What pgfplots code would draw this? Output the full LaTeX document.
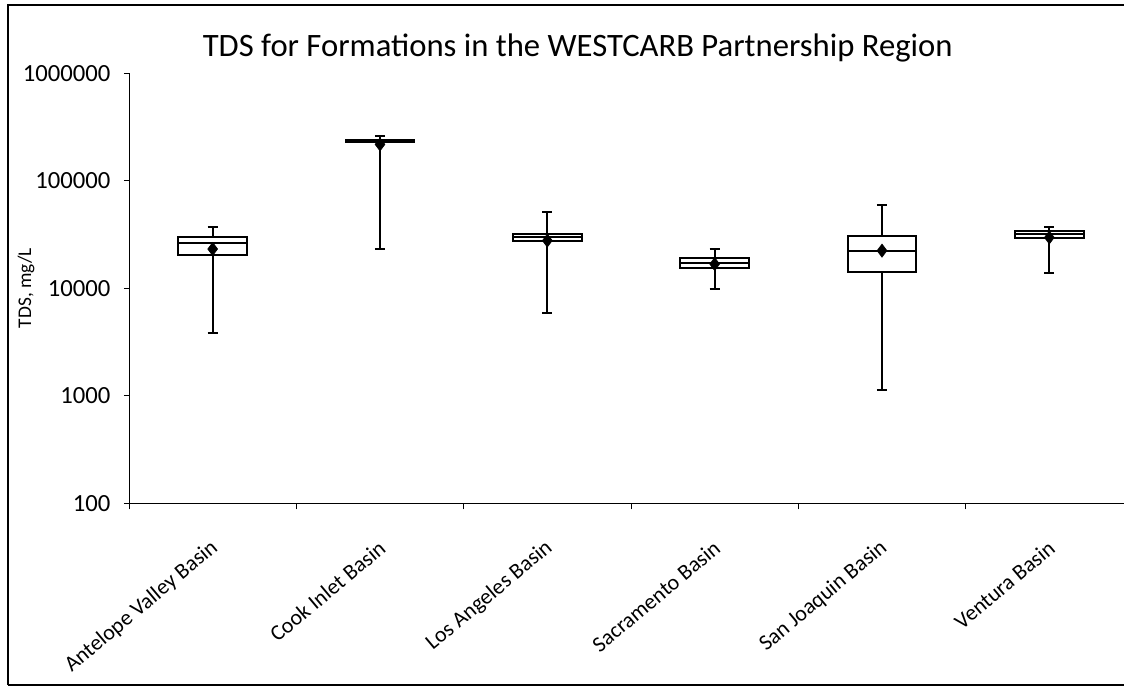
\documentclass[border=0pt]{standalone}
\usepackage{fontspec}
\setmainfont{Carlito}
\usepackage{pgfplots}
\pgfplotsset{compat=1.18}
\usepgfplotslibrary{statistics}
\begin{document}
\begin{tikzpicture}
\path[use as bounding box] (0,0) rectangle (674.4pt,413.4pt);
\clip (0,0) rectangle (674.4pt,413.4pt);
\draw[line width=1.2pt] (4.8pt,2.4pt) -- (4.8pt,410.4pt) -- (680pt,410.4pt);
\draw[line width=1.2pt] (4.8pt,2.4pt) -- (680pt,2.4pt);
\node[font=\fontsize{19.6pt}{22pt}\selectfont, anchor=base east, inner sep=0pt] at (571.8pt,379.2pt) {TDS for Formations in the WESTCARB Partnership Region};
\node[font=\fontsize{11.6pt}{13pt}\selectfont, rotate=90] at (15.6pt,240.6pt) {TDS, mg/L};
\begin{axis}[
  at={(77.4pt,111.42pt)}, anchor=south west,
  scale only axis, width=602.4pt, height=258pt,
  ymode=log, ymin=100, ymax=1000000,
  xmin=0.5, xmax=6.5,
  axis x line*=bottom, axis y line*=left,
  axis line style={line width=0.6pt, black},
  tick align=outside,
  ytick={100,1000,10000,100000,1000000},
  yticklabels={100,1000,10000,100000,1000000},
  yminorticks=false,
  major tick length=3pt,
  minor tick length=3.6pt,
  tick style={line width=0.6pt, black},
  xtick={1,2,3,4,5,6},
  xticklabels={Antelope Valley Basin,Cook Inlet Basin,Los Angeles Basin,Sacramento Basin,San Joaquin Basin,Ventura Basin},
  minor xtick={0.5,1.5,2.5,3.5,4.5,5.5,6.5},
  major x tick style={draw=none},
  yticklabel style={font=\fontsize{14.8pt}{17pt}\selectfont, inner sep=0pt, xshift=-8pt},
  xticklabel style={font=\fontsize{13.2pt}{15pt}\selectfont, inner sep=0pt, xshift=1.5pt, yshift=-22pt, rotate=40, anchor=east},
  boxplot/draw direction=y,
  boxplot/box extend=0.41,
  boxplot/whisker extend=0.06,
  boxplot/every average/.style={/tikz/mark=diamond*, /tikz/mark size=3.9pt, /tikz/mark options={fill=black, draw=black, line width=0.3pt}},
  boxplot/every box/.style={fill=white, draw=black, line width=1.2pt},
  boxplot/every whisker/.style={line width=1.2pt},
  boxplot/every median/.style={line width=1.2pt},
]
\addplot[black, boxplot prepared={draw position=1, lower whisker=3810, lower quartile=20400, median=26500, upper quartile=30200, upper whisker=37400, average=23200}] coordinates {};
\addplot[black, boxplot prepared={draw position=2, lower whisker=23100, lower quartile=228000, median=234000, upper quartile=240000, upper whisker=263000, average=218000}] coordinates {};
\addplot[black, boxplot prepared={draw position=3, lower whisker=5930, lower quartile=27300, median=30000, upper quartile=31800, upper whisker=51300, average=27800}] coordinates {};
\addplot[black, boxplot prepared={draw position=4, lower whisker=9790, lower quartile=15600, median=17100, upper quartile=19000, upper whisker=23100, average=16800}] coordinates {};
\addplot[black, boxplot prepared={draw position=5, lower whisker=1130, lower quartile=14100, median=22400, upper quartile=30700, upper whisker=59200, average=22400}] coordinates {};
\addplot[black, boxplot prepared={draw position=6, lower whisker=13970, lower quartile=29600, median=31800, upper quartile=34100, upper whisker=36900, average=29700}] coordinates {};
\end{axis}
\end{tikzpicture}
\end{document}
